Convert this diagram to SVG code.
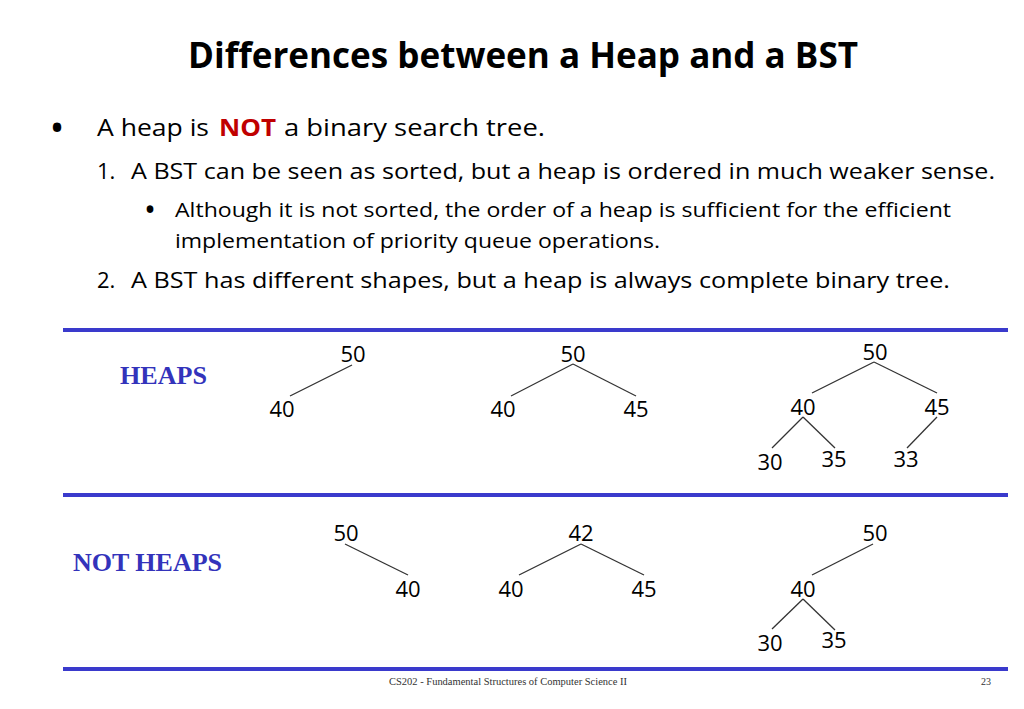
<svg xmlns="http://www.w3.org/2000/svg" width="1024" height="709" viewBox="0 0 1024 709">
<style>
.s{font-family:"Open Sans","Noto Sans",sans-serif;fill:#000}
.t{font-weight:bold;font-size:35px}
.n{font-family:"Open Sans","Noto Sans",sans-serif;font-size:22px;fill:#000;text-anchor:middle}
.lab{font-family:"Liberation Serif","Times New Roman",serif;font-weight:bold;font-size:26px;fill:#3333bb}
.ft{font-family:"Liberation Serif","Times New Roman",serif;font-size:10px;fill:#333}
.rule{stroke:#3a3acc;stroke-width:4}
.e{stroke:#333;stroke-width:1.3;fill:none}
</style>
<rect width="1024" height="709" fill="#fff"/>
<g id="title">
<text class="s t" x="188" y="68" textLength="670" lengthAdjust="spacingAndGlyphs">Differences between a Heap and a BST</text>
</g>
<g id="bullets">
<text class="s" x="57" y="142" font-size="40" text-anchor="middle">•</text>
<text class="s" font-size="24" y="136"><tspan x="97" textLength="112" lengthAdjust="spacingAndGlyphs">A heap is</tspan><tspan x="219" font-weight="bold" fill="#c00000" textLength="57" lengthAdjust="spacingAndGlyphs">NOT</tspan><tspan x="284" textLength="261" lengthAdjust="spacingAndGlyphs">a binary search tree.</tspan></text>
<text class="s" x="97" y="179" font-size="22">1.</text>
<text class="s" x="131" y="179" font-size="22" textLength="864" lengthAdjust="spacingAndGlyphs">A BST can be seen as sorted, but a heap is ordered in much weaker sense.</text>
<text class="s" x="150" y="221" font-size="32" text-anchor="middle">•</text>
<text class="s" x="175" y="217" font-size="20" textLength="776" lengthAdjust="spacingAndGlyphs">Although it is not sorted, the order of a heap is sufficient for the efficient</text>
<text class="s" x="175" y="248" font-size="20" textLength="485" lengthAdjust="spacingAndGlyphs">implementation of priority queue operations.</text>
<text class="s" x="97" y="288" font-size="22">2.</text>
<text class="s" x="131" y="288" font-size="22" textLength="819" lengthAdjust="spacingAndGlyphs">A BST has different shapes, but a heap is always complete binary tree.</text>
</g>
<g id="rules">
<line class="rule" x1="63" y1="330" x2="1008" y2="330"/>
<line class="rule" x1="63" y1="495" x2="1008" y2="495"/>
<line class="rule" x1="63" y1="669" x2="1008" y2="669"/>
</g>
<g id="labels">
<text class="lab" x="120" y="384" textLength="87" lengthAdjust="spacingAndGlyphs">HEAPS</text>
<text class="lab" x="73" y="571" textLength="149" lengthAdjust="spacingAndGlyphs">NOT HEAPS</text>
</g>
<g id="connectors">
<line class="e" x1="352" y1="365" x2="290" y2="396"/>
<line class="e" x1="573" y1="364" x2="511" y2="396"/>
<line class="e" x1="573" y1="364" x2="636" y2="396"/>
<line class="e" x1="874" y1="362" x2="812" y2="393"/>
<line class="e" x1="874" y1="362" x2="937" y2="393"/>
<line class="e" x1="803" y1="417" x2="772" y2="448"/>
<line class="e" x1="803" y1="417" x2="835" y2="448"/>
<line class="e" x1="937" y1="417" x2="907" y2="448"/>
<line class="e" x1="345" y1="544" x2="408" y2="575"/>
<line class="e" x1="581" y1="544" x2="519" y2="575"/>
<line class="e" x1="581" y1="544" x2="644" y2="575"/>
<line class="e" x1="873" y1="544" x2="812" y2="575"/>
<line class="e" x1="803" y1="599" x2="772" y2="629"/>
<line class="e" x1="803" y1="599" x2="835" y2="630"/>
</g>
<g id="heap1"><text class="n" x="353" y="362">50</text><text class="n" x="282" y="417">40</text></g>
<g id="heap2"><text class="n" x="573" y="362">50</text><text class="n" x="503" y="417">40</text><text class="n" x="636" y="417">45</text></g>
<g id="heap3"><text class="n" x="875" y="360">50</text><text class="n" x="803" y="415">40</text><text class="n" x="937" y="415">45</text><text class="n" x="770" y="470">30</text><text class="n" x="834" y="467">35</text><text class="n" x="906" y="467">33</text></g>
<g id="notheap1"><text class="n" x="346" y="541">50</text><text class="n" x="408" y="597">40</text></g>
<g id="notheap2"><text class="n" x="581" y="541">42</text><text class="n" x="511" y="597">40</text><text class="n" x="644" y="597">45</text></g>
<g id="notheap3"><text class="n" x="875" y="541">50</text><text class="n" x="803" y="597">40</text><text class="n" x="770" y="651">30</text><text class="n" x="834" y="648">35</text></g>
<g id="footer">
<text class="ft" x="389" y="685" textLength="238" lengthAdjust="spacingAndGlyphs">CS202 - Fundamental Structures of Computer Science II</text>
<text class="ft" x="986" y="685" text-anchor="middle">23</text>
</g>
</svg>
